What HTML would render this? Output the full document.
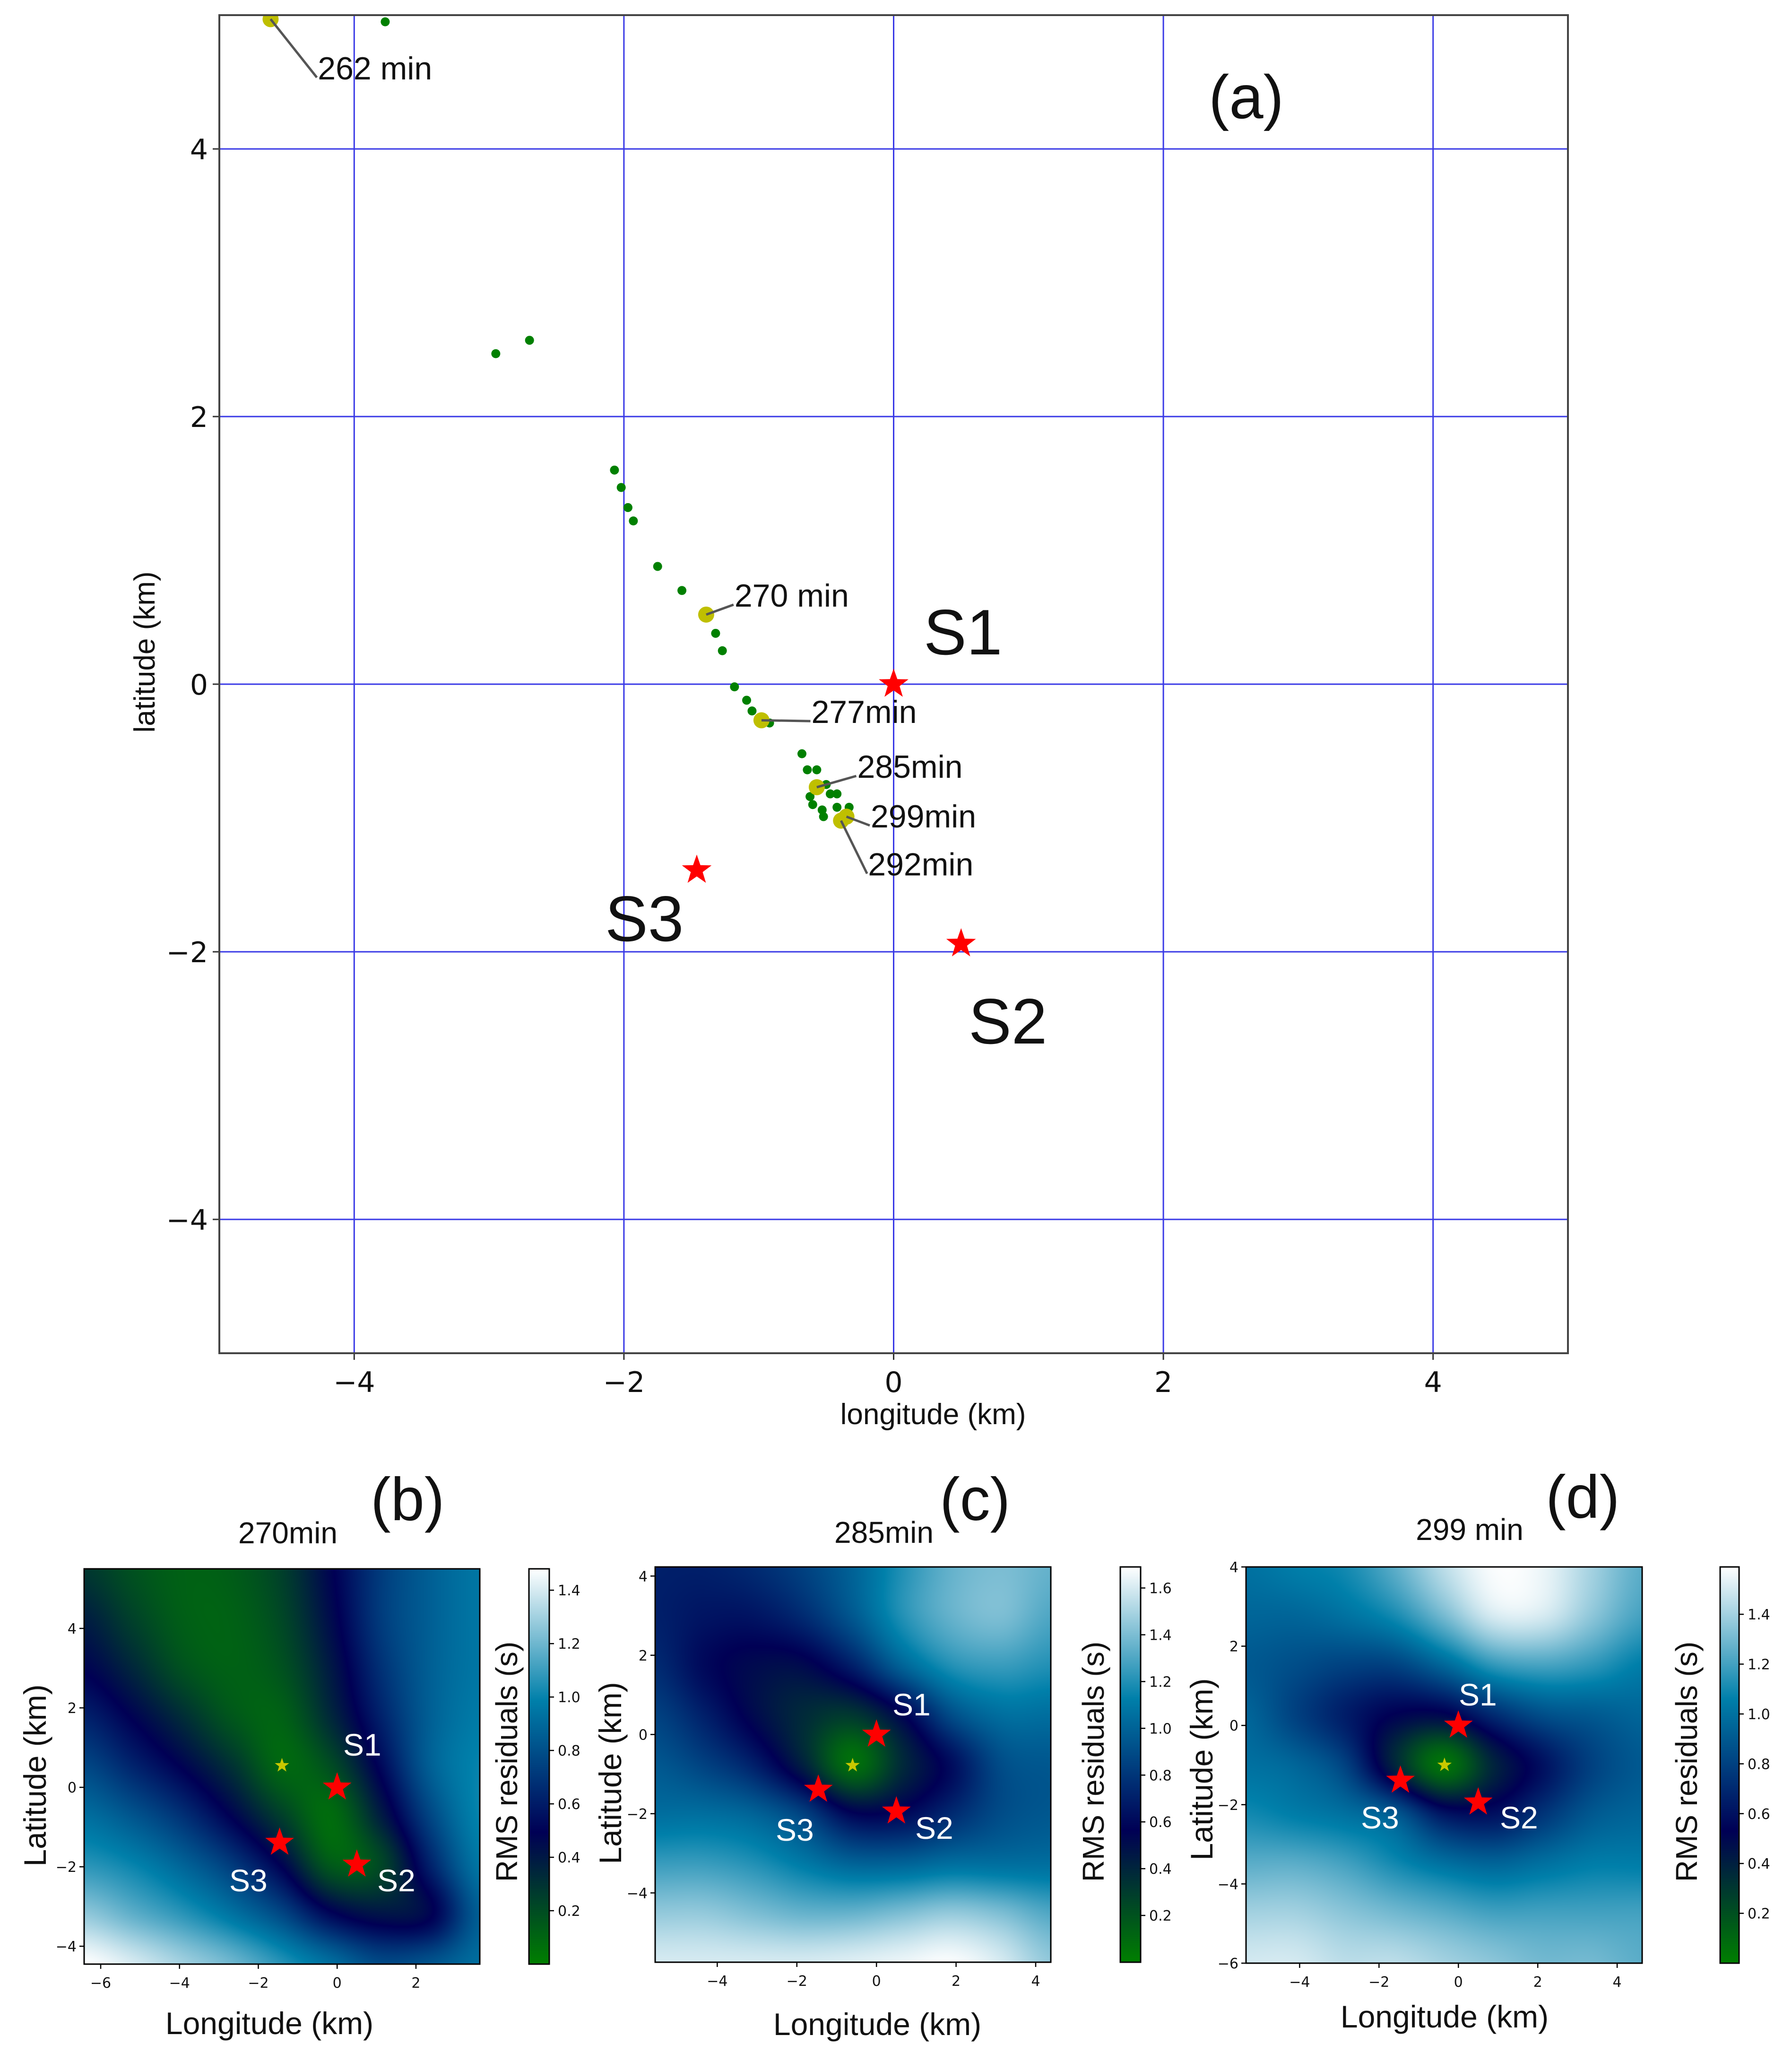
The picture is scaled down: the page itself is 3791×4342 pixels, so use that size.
<!DOCTYPE html>
<html><head><meta charset="utf-8">
<style>
html,body{margin:0;padding:0;background:#fff;}
#root{position:relative;width:3791px;height:4342px;overflow:hidden;background:#fff;}
svg{position:absolute;left:0;top:0;}
canvas{position:absolute;}
</style></head>
<body>
<div id="root">
<svg id="fig" width="3791" height="4342" xmlns="http://www.w3.org/2000/svg"></svg>
</div>
<script>
// ---------- main panel data ----------
const lonPts = [-3.77,-2.95,-2.70,-2.07,-2.02,-1.97,-1.93,-1.75,-1.57,-1.32,-1.27,-1.18,-1.09,-1.05,-0.92,-0.68,-0.64,-0.57,-0.50,-0.47,-0.42,-0.62,-0.60,-0.53,-0.52,-0.42,-0.33];
const latPts = [4.95,2.47,2.57,1.60,1.47,1.32,1.22,0.88,0.70,0.38,0.25,-0.02,-0.12,-0.20,-0.29,-0.52,-0.64,-0.64,-0.75,-0.82,-0.82,-0.84,-0.90,-0.94,-0.99,-0.92,-0.92];
const selLon = [-4.62,-1.39,-0.98,-0.57,-0.39,-0.35];
const selLat = [4.97,0.52,-0.27,-0.77,-1.02,-0.99];
const selLabels = ["262 min","270 min","277min","285min","292min","299min"];
const labelLon = [-4.27,-1.18,-0.61,-0.27,-0.19,-0.17];
const labelLat = [4.52,0.58,-0.29,-0.70,-1.43,-1.07];
const stationNames = ["S1","S2","S3"];
const stationLon = [0,0.5,-1.46];
const stationLat = [0,-1.94,-1.39];
const mainTicks = [-4,-2,0,2,4];
// ---------- heatmap panels data ----------
const gridB = [
[0.28,0.18,0.12,0.14,0.25,0.48,0.72,0.86,0.95],
[0.38,0.24,0.13,0.12,0.22,0.45,0.72,0.86,0.95],
[0.48,0.34,0.18,0.12,0.18,0.40,0.68,0.86,0.95],
[0.62,0.48,0.32,0.16,0.12,0.34,0.62,0.86,0.97],
[0.77,0.63,0.48,0.30,0.10,0.20,0.52,0.86,1.00],
[0.92,0.82,0.68,0.48,0.25,0.08,0.38,0.76,1.00],
[1.07,1.00,0.88,0.72,0.48,0.15,0.22,0.62,0.95],
[1.27,1.17,1.07,0.94,0.77,0.52,0.42,0.48,0.86],
[1.48,1.40,1.30,1.20,1.06,0.92,0.78,0.82,0.92]];
const gridC = [
[0.70,0.70,0.75,0.85,1.00,1.20,1.35,1.40,1.35],
[0.70,0.65,0.65,0.75,0.95,1.20,1.35,1.40,1.30],
[0.75,0.60,0.52,0.52,0.70,1.00,1.20,1.25,1.20],
[0.85,0.70,0.52,0.38,0.32,0.55,0.90,1.05,1.05],
[0.95,0.85,0.70,0.42,0.08,0.38,0.62,0.90,0.95],
[1.05,1.05,1.00,0.85,0.58,0.60,0.75,0.90,0.95],
[1.25,1.25,1.20,1.10,1.00,1.00,1.05,1.05,1.05],
[1.45,1.45,1.40,1.35,1.35,1.40,1.45,1.40,1.30],
[1.60,1.60,1.60,1.60,1.62,1.65,1.68,1.60,1.45]];
const gridD = [
[1.00,1.05,1.10,1.25,1.45,1.58,1.55,1.40,1.25],
[0.95,0.95,1.00,1.10,1.30,1.50,1.50,1.35,1.20],
[0.90,0.85,0.80,0.80,0.95,1.15,1.20,1.15,1.05],
[0.95,0.80,0.65,0.52,0.50,0.70,0.85,0.90,0.95],
[1.00,0.95,0.80,0.38,0.06,0.38,0.60,0.80,0.90],
[1.10,1.05,1.00,0.90,0.62,0.60,0.75,0.90,0.95],
[1.25,1.25,1.20,1.10,1.00,0.95,1.00,1.05,1.05],
[1.40,1.40,1.35,1.30,1.25,1.20,1.20,1.20,1.20],
[1.50,1.50,1.45,1.45,1.40,1.35,1.30,1.30,1.25]];
const bestLon = [-1.4,-0.6,-0.35];
const bestLat = [0.55,-0.78,-1.0];
const panelTitles = ["270min","285min","299 min"];
const panelLetters = ["(b)","(c)","(d)"];
const xTicksB = [-6,-4,-2,0,2];
const yTicksB = [-4,-2,0,2,4];
const xTicksC = [-4,-2,0,2,4];
const yTicksC = [-4,-2,0,2,4];
const xTicksD = [-4,-2,0,2,4];
const yTicksD = [-6,-4,-2,0,2,4];
const cbTicksB = [0.2,0.4,0.6,0.8,1.0,1.2,1.4];
const cbTicksC = [0.2,0.4,0.6,0.8,1.0,1.2,1.4,1.6];
const cbTicksD = [0.2,0.4,0.6,0.8,1.0,1.2,1.4];

const NS="http://www.w3.org/2000/svg";
const svg=document.getElementById('fig');
function mk(tag,attrs,parent){const e=document.createElementNS(NS,tag);for(const k in attrs)e.setAttribute(k,attrs[k]);(parent||svg).appendChild(e);return e;}
function txt(s,attrs,parent){const e=mk('text',attrs,parent);e.textContent=s;return e;}
function starPts(cx,cy,R){let p=[];for(let i=0;i<10;i++){const r=i%2?R*0.4:R;const a=-Math.PI/2+i*Math.PI/5;p.push((cx+r*Math.cos(a)).toFixed(1)+','+(cy+r*Math.sin(a)).toFixed(1));}return p.join(' ');}
function fmt(v){return (v<0?'\u2212':'')+Math.abs(v);}
function fmt1(v){return v.toFixed(1);}

// ---------- main panel ----------
const M={L:464,R:3317,T:32,B:2862,x0:-5,x1:5,y0:-5,y1:5};
const mx=v=>M.L+(v-M.x0)/(M.x1-M.x0)*(M.R-M.L);
const my=v=>M.B-(v-M.y0)/(M.y1-M.y0)*(M.B-M.T);
const gMain=mk('g',{});


const defs=mk('defs',{});
const cp=mk('clipPath',{id:'clipMain'},defs);
mk('rect',{x:M.L,y:M.T,width:M.R-M.L,height:M.B-M.T},cp);
mk('rect',{x:M.L,y:M.T,width:M.R-M.L,height:M.B-M.T,fill:'#fff'},gMain);
mainTicks.forEach(t=>{
  const gl=mk('line',{x1:mx(t),x2:mx(t),y1:M.T,y2:M.B,stroke:'#3a3ae6','stroke-width':3},gMain);
  
  const gh=mk('line',{x1:M.L,x2:M.R,y1:my(t),y2:my(t),stroke:'#3a3ae6','stroke-width':3},gMain);
  
  mk('line',{x1:mx(t),x2:mx(t),y1:M.B,y2:M.B+14,stroke:'#333','stroke-width':3},gMain);
  mk('line',{x1:M.L-14,x2:M.L,y1:my(t),y2:my(t),stroke:'#333','stroke-width':3},gMain);
  const xl=txt(fmt(t),{x:mx(t),y:M.B+82,'text-anchor':'middle','font-family':'DejaVu Sans, sans-serif','font-size':60,fill:'#111'},gMain);
  
  const yl=txt(fmt(t),{x:M.L-24,y:my(t)+22,'text-anchor':'end','font-family':'DejaVu Sans, sans-serif','font-size':60,fill:'#111'},gMain);
  
});
const pts=mk('g',{'clip-path':'url(#clipMain)'},gMain);

lonPts.forEach((lo,i)=>{
  const c=mk('circle',{cx:mx(lo),cy:my(latPts[i]),r:9.5,fill:'#008000'},pts);
  
});
selLon.forEach((lo,i)=>{
  const px=mx(lo),py=my(selLat[i]);
  const tx=mx(labelLon[i]),ty=my(labelLat[i]);
  const ln=mk('line',{x1:px,y1:py,x2:tx-2,y2:ty-4,stroke:'#555','stroke-width':5},gMain);
  
  const c=mk('circle',{cx:px,cy:py,r:17,fill:'#bfbf00'},pts);
  
  const t=txt(selLabels[i],{x:tx,y:ty,'font-family':'Liberation Sans, sans-serif','font-size':68,fill:'#111'},gMain);
  
});
stationLon.forEach((lo,i)=>{
  const s=mk('polygon',{points:starPts(mx(lo),my(stationLat[i]),33),fill:'#ff0000'},gMain);
  
});
const sLabPos=[[1954,1384],[2049,2207],[1280,1990]];
stationNames.forEach((n,i)=>{
  const t=txt(n,{x:sLabPos[i][0],y:sLabPos[i][1],'font-family':'Liberation Sans, sans-serif','font-size':136,fill:'#111'},gMain);
  
});
const frame=mk('rect',{x:M.L,y:M.T,width:M.R-M.L,height:M.B-M.T,fill:'none',stroke:'#444','stroke-width':4},gMain);

const pa=txt('(a)',{x:2557,y:250,'font-family':'Liberation Sans, sans-serif','font-size':130,fill:'#111'},gMain);

const xt=txt('longitude (km)',{x:1974,y:3012,'text-anchor':'middle','font-family':'Liberation Sans, sans-serif','font-size':62,fill:'#111'},gMain);

const yt=txt('latitude (km)',{x:0,y:0,'text-anchor':'middle','font-family':'Liberation Sans, sans-serif','font-size':62,fill:'#111',transform:'translate(327,1379) rotate(-90)'},gMain);


// ---------- colormap (matplotlib "ocean") ----------
function ocean(t){t=Math.max(0,Math.min(1,t));const r=Math.max(0,Math.min(1,3*t-2));const g=Math.min(1,Math.abs((3*t-1)/2));return [r*255,g*255,t*255];}
function cr(p0,p1,p2,p3,u){return 0.5*((2*p1)+(-p0+p2)*u+(2*p0-5*p1+4*p2-p3)*u*u+(-p0+3*p1-3*p2+p3)*u*u*u);}
function sample(grid,fx,fy){const n=grid.length-1,m=grid[0].length-1;const gx=fx*m,gy=fy*n;
  const i=Math.min(m-1,Math.floor(gx)),j=Math.min(n-1,Math.floor(gy));const ux=gx-i,uy=gy-j;
  const ci=k=>Math.max(0,Math.min(m,k)),cj=k=>Math.max(0,Math.min(n,k));
  const rows=[];for(let d=-1;d<=2;d++){const r=grid[cj(j+d)];rows.push(cr(r[ci(i-1)],r[ci(i)],r[ci(i+1)],r[ci(i+2)],ux));}
  return cr(rows[0],rows[1],rows[2],rows[3],uy);}

const panels=[
 {grid:gridB,L:178,R:1015,T:3318,B:4154,x0:-6.42,x1:3.62,y0:-4.45,y1:5.5,vmax:1.48,cbL:1119,cbR:1162,xt:xTicksB,yt:yTicksB,cbt:cbTicksB,title:[609,3264],letter:[784,3215],lat:[73,3755],lon:[570,4302],rms:[1070,3726],sl:[[726,3713],[798,4000],[485,4000]]},
 {grid:gridC,L:1386,R:2223,T:3314,B:4150,x0:-5.56,x1:4.38,y0:-5.75,y1:4.23,vmax:1.69,cbL:2370,cbR:2413,xt:xTicksC,yt:yTicksC,cbt:cbTicksC,title:[1870,3263],letter:[1988,3215],lat:[1290,3750],lon:[1856,4304],rms:[2311,3726],sl:[[1888,3628],[1936,3889],[1641,3893]]},
 {grid:gridD,L:2636,R:3474,T:3314,B:4152,x0:-5.35,x1:4.63,y0:-6,y1:4,vmax:1.59,cbL:3639,cbR:3679,xt:xTicksD,yt:yTicksD,cbt:cbTicksD,title:[3109,3257],letter:[3270,3210],lat:[2541,3742],lon:[3056,4288],rms:[3566,3726],sl:[[3086,3607],[3173,3867],[2879,3867]]}
];
const root=document.getElementById('root');
panels.forEach((P,k)=>{
  const g=mk('g',{});
  
  
  const W=P.R-P.L,H=P.B-P.T;
  const cv=document.createElement('canvas');cv.width=W;cv.height=H;cv.style.left=P.L+'px';cv.style.top=P.T+'px';
  
  
  root.insertBefore(cv,svg);
  const ctx=cv.getContext('2d');const im=ctx.createImageData(W,H);
  for(let y=0;y<H;y++)for(let x=0;x<W;x++){const v=sample(P.grid,x/(W-1),y/(H-1));const c=ocean(v/P.vmax);const o=(y*W+x)*4;im.data[o]=c[0];im.data[o+1]=c[1];im.data[o+2]=c[2];im.data[o+3]=255;}
  ctx.putImageData(im,0,0);
  const cb=document.createElement('canvas');const cw=P.cbR-P.cbL;cb.width=cw;cb.height=H;cb.style.left=P.cbL+'px';cb.style.top=P.T+'px';
  
  
  root.insertBefore(cb,svg);
  const c2=cb.getContext('2d');for(let y=0;y<H;y++){const c=ocean(1-y/(H-1));c2.fillStyle='rgb('+c.map(Math.round).join(',')+')';c2.fillRect(0,y,cw,1);}
  const px=v=>P.L+(v-P.x0)/(P.x1-P.x0)*W, py=v=>P.B-(v-P.y0)/(P.y1-P.y0)*H, cy=v=>P.B-v/P.vmax*H;
  mk('rect',{x:P.L,y:P.T,width:W,height:H,fill:'none',stroke:'#000','stroke-width':3},g);
  mk('rect',{x:P.cbL,y:P.T,width:cw,height:H,fill:'none',stroke:'#000','stroke-width':3},g);
  P.xt.forEach(t=>{mk('line',{x1:px(t),x2:px(t),y1:P.B,y2:P.B+10,stroke:'#000','stroke-width':2.5},g);
    const l=txt(fmt(t),{x:px(t),y:P.B+50,'text-anchor':'middle','font-family':'DejaVu Sans, sans-serif','font-size':30,fill:'#111'},g);
    });
  P.yt.forEach(t=>{mk('line',{x1:P.L-10,x2:P.L,y1:py(t),y2:py(t),stroke:'#000','stroke-width':2.5},g);
    const l=txt(fmt(t),{x:P.L-16,y:py(t)+11,'text-anchor':'end','font-family':'DejaVu Sans, sans-serif','font-size':30,fill:'#111'},g);
    });
  P.cbt.forEach(t=>{mk('line',{x1:P.cbR,x2:P.cbR+10,y1:cy(t),y2:cy(t),stroke:'#000','stroke-width':2.5},g);
    const l=txt(fmt1(t),{x:P.cbR+18,y:cy(t)+11,'font-family':'DejaVu Sans, sans-serif','font-size':30,fill:'#111'},g);
    });
  const bs=mk('polygon',{points:starPts(px(bestLon[k]),py(bestLat[k]),16),fill:'#c8c800'},g);
  
  stationLon.forEach((lo,i)=>{const s=mk('polygon',{points:starPts(px(lo),py(stationLat[i]),32),fill:'#ff0000'},g);
    
    const t=txt(stationNames[i],{x:P.sl[i][0],y:P.sl[i][1],'font-family':'Liberation Sans, sans-serif','font-size':66,fill:'#fff'},g);
    });
  const ti=txt(panelTitles[k],{x:P.title[0],y:P.title[1],'text-anchor':'middle','font-family':'Liberation Sans, sans-serif','font-size':64,fill:'#111'},g);
  
  const le=txt(panelLetters[k],{x:P.letter[0],y:P.letter[1],'font-family':'Liberation Sans, sans-serif','font-size':128,fill:'#111'},g);
  
  const lo=txt('Longitude (km)',{x:P.lon[0],y:P.lon[1],'text-anchor':'middle','font-family':'Liberation Sans, sans-serif','font-size':66,fill:'#111'},g);
  
  const la=txt('Latitude (km)',{x:0,y:0,'text-anchor':'middle','font-family':'Liberation Sans, sans-serif','font-size':66,fill:'#111',transform:'translate('+(P.lat[0]+24)+','+P.lat[1]+') rotate(-90)'},g);
  
  const rm=txt('RMS residuals (s)',{x:0,y:0,'text-anchor':'middle','font-family':'Liberation Sans, sans-serif','font-size':64,fill:'#111',transform:'translate('+(P.rms[0]+24)+','+P.rms[1]+') rotate(-90)'},g);
  
});
</script>
</body></html>
